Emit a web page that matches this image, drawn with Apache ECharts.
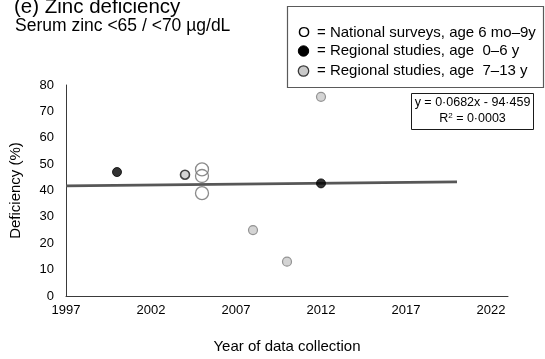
<!DOCTYPE html>
<html>
<head>
<meta charset="utf-8">
<script src="https://cdn.jsdelivr.net/npm/echarts@6/dist/echarts.min.js"></script>
<style>
  html, body { margin: 0; padding: 0; background: #fff; }
  #chart { width: 545px; height: 359px; }
</style>
</head>
<body>
<div id="chart"></div>
<script>
// Zinc deficiency prevalence by year of data collection
const nationalYears = [2005, 2005, 2005];
const nationalValues = [48, 45.5, 39];

const regionalYoungYears = [2000, 2012];
const regionalYoungValues = [47, 42.7];

const regionalOlderYears = [2004, 2008, 2010, 2012];
const regionalOlderValues = [46, 25, 13, 75.5];

// Linear fit stated in the equation box
const trendSlope = 0.0682;
const trendIntercept = -94.459;
const trendYears = [1997, 2020];

const yTicks = [0, 10, 20, 30, 40, 50, 60, 70, 80];
const xTickYears = [1997, 2002, 2007, 2012, 2017, 2022];

const FONT = 'Liberation Sans, Arial, sans-serif';

const pairs = (xs, ys) => xs.map((x, i) => [x, ys[i]]);

const chart = echarts.init(document.getElementById('chart'), null, { renderer: 'canvas' });

const olderData = pairs(regionalOlderYears, regionalOlderValues).map((p, i) =>
  i === 0 ? { value: p, itemStyle: { borderColor: '#1a1a1a', borderWidth: 1.6 } } : p
);

chart.setOption({
  animation: false,
  textStyle: { fontFamily: FONT },
  grid: { left: 62, right: 37, top: 85, bottom: 60 },
  xAxis: {
    type: 'value',
    min: 1997,
    max: 2023,
    interval: 5,
    name: 'Year of data collection',
    nameLocation: 'middle',
    nameGap: 43,
    nameTextStyle: { fontSize: 15, color: '#000', fontFamily: FONT },
    axisLine: { show: true, lineStyle: { color: '#3a3a3a', width: 1 } },
    axisTick: { show: false },
    splitLine: { show: false },
    axisLabel: {
      fontSize: 13, color: '#000', margin: 8, fontFamily: FONT,
      formatter: v => (xTickYears.indexOf(v) >= 0 ? String(v) : '')
    }
  },
  yAxis: {
    type: 'value',
    min: yTicks[0],
    max: yTicks[yTicks.length - 1],
    interval: 10,
    name: 'Deficiency (%)',
    nameLocation: 'middle',
    nameGap: 43,
    nameTextStyle: { fontSize: 15, color: '#000', fontFamily: FONT },
    axisLine: { show: true, lineStyle: { color: '#3a3a3a', width: 1 } },
    axisTick: { show: false },
    splitLine: { show: false },
    axisLabel: { fontSize: 13, color: '#000', margin: 12, fontFamily: FONT }
  },
  series: [
    {
      name: 'Trend',
      type: 'line',
      data: trendYears.map(x => [x, trendSlope * x + trendIntercept]),
      showSymbol: false,
      lineStyle: { color: '#575757', width: 2.8 },
      z: 1,
      silent: true
    },
    {
      name: 'National surveys, age 6 mo–9y',
      type: 'scatter',
      data: pairs(nationalYears, nationalValues),
      symbol: 'circle',
      symbolSize: 13,
      itemStyle: { color: 'rgba(255,255,255,0)', borderColor: '#6e6e6e', borderWidth: 1.3 },
      z: 3
    },
    {
      name: 'Regional studies, age 0–6 y',
      type: 'scatter',
      data: pairs(regionalYoungYears, regionalYoungValues),
      symbol: 'circle',
      symbolSize: 9,
      itemStyle: { color: '#000', borderColor: '#000', borderWidth: 1 },
      z: 4
    },
    {
      name: 'Regional studies, age 7–13 y',
      type: 'scatter',
      data: olderData,
      symbol: 'circle',
      symbolSize: 9,
      itemStyle: { color: '#c9c9c9', borderColor: '#7d7d7d', borderWidth: 1.2 },
      z: 4
    }
  ],
  graphic: [
    // titles
    { type: 'text', left: 14, top: -3, style: { text: '(e) Zinc deficiency', font: '20.5px ' + FONT, fill: '#000' } },
    { type: 'text', left: 15, top: 17, style: { text: 'Serum zinc <65 / <70 µg/dL', font: '17.5px ' + FONT, fill: '#000' } },
    // legend box
    {
      type: 'group',
      children: [
        { type: 'rect', shape: { x: 287.5, y: 6.5, width: 256, height: 81 },
          style: { fill: '#fff', stroke: '#5a5a5a', lineWidth: 1.2 } },
        { type: 'text', x: 298, y: 33, style: { text: 'O', font: '15.5px ' + FONT, fill: '#000', textVerticalAlign: 'middle' } },
        { type: 'text', x: 317, y: 33, style: { text: '= National surveys, age 6 mo–9y', font: '15px ' + FONT, fill: '#000', textVerticalAlign: 'middle' } },
        { type: 'circle', shape: { cx: 303.5, cy: 51, r: 5.2 }, style: { fill: '#000', stroke: '#000', lineWidth: 1 } },
        { type: 'text', x: 317, y: 51, style: { text: '= Regional studies, age  0–6 y', font: '15px ' + FONT, fill: '#000', textVerticalAlign: 'middle' } },
        { type: 'circle', shape: { cx: 303.5, cy: 71, r: 5.2 }, style: { fill: '#c9c9c9', stroke: '#3a3a3a', lineWidth: 1.3 } },
        { type: 'text', x: 317, y: 71, style: { text: '= Regional studies, age  7–13 y', font: '15px ' + FONT, fill: '#000', textVerticalAlign: 'middle' } }
      ]
    },
    // regression equation box
    {
      type: 'group',
      children: [
        { type: 'rect', shape: { x: 411.5, y: 93.5, width: 122, height: 36 },
          style: { fill: '#fff', stroke: '#1a1a1a', lineWidth: 1 } },
        { type: 'text', x: 472.5, y: 103, style: { text: 'y = 0·0682x - 94·459', font: '12.5px ' + FONT, fill: '#000', textAlign: 'center', textVerticalAlign: 'middle' } },
        { type: 'text', x: 472.5, y: 119, style: {
            text: '{a|R}{s|2}{a| = 0·0003}',
            textAlign: 'center', textVerticalAlign: 'middle',
            rich: {
              a: { font: '12.5px ' + FONT, fill: '#000', color: '#000' },
              s: { font: '8px ' + FONT, fill: '#000', color: '#000', verticalAlign: 'top', padding: [0, 0, 6, 0] }
            }
          } }
      ]
    }
  ]
});
</script>
</body>
</html>
